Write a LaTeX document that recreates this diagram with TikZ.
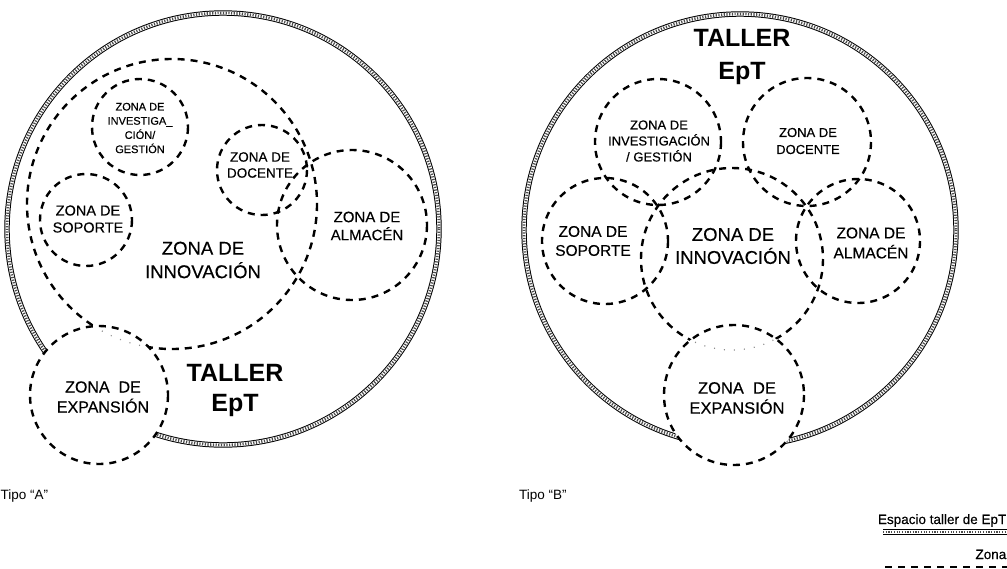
\documentclass[tikz,border=0pt]{standalone}
\usepackage{fontspec}
\setmainfont{Liberation Sans}
\newfontface\zf[FakeBold=0.35]{Liberation Sans}
\begin{document}
\begin{tikzpicture}[x=1pt,y=-1pt,
  zn/.style={draw=black, line width=2.4pt, dash pattern=on 7pt off 6pt},
  outerln/.style={draw=black, line width=1pt, double=white, double distance=3.4pt,
    postaction={draw=black!70, line width=2.8pt, dash pattern=on 1.2pt off 1.5pt}},
  faint/.style={draw=black!45, line width=1.2pt, dash pattern=on 1pt off 9pt},
  lbl/.style={align=center, inner sep=0pt},
]
\useasboundingbox (0,0) rectangle (1007,568);

% ---------------- Tipo A ----------------
\coordinate (oA) at (223,229);
\coordinate (inA) at (172,204);
\coordinate (exA) at (99,395);
\draw[outerln] (oA) circle (216);
\draw[zn] (inA) circle (145);
\fill[white] (exA) circle (69);
\draw[zn] (exA) circle (69);
\begin{scope}
  \clip (exA) circle (67);
  \draw[faint] (inA) circle (145);
\end{scope}
\coordinate (ivA) at (140,127);
\coordinate (dcA) at (262,170);
\coordinate (spA) at (86,220);
\coordinate (amA) at (352,225);
\draw[zn] (ivA) circle (48);
\draw[zn] (dcA) circle (45);
\draw[zn] (spA) circle (46);
\draw[zn] (amA) circle (75);

\node[lbl, font=\zf\fontsize{11}{14.2}\selectfont] (tivA) at (140,128) {ZONA DE\\INVESTIGA\_\\CIÓN/\\GESTIÓN};
\node[lbl, font=\zf\fontsize{13.5}{16}\selectfont] (tdcA) at (260,165) {ZONA DE\\DOCENTE};
\node[lbl, font=\zf\fontsize{14.5}{17}\selectfont] (tspA) at (88,219) {ZONA DE\\SOPORTE};
\node[lbl, font=\zf\fontsize{15}{18}\selectfont] (tamA) at (367,226) {ZONA DE\\ALMACÉN};
\node[lbl, font=\zf\fontsize{18.5}{23.5}\selectfont] (tinA) at (203,260) {ZONA DE\\INNOVACIÓN};
\node[lbl, font=\zf\fontsize{16}{20}\selectfont] (texA) at (103,397) {ZONA\ \ DE\\EXPANSIÓN};
\node[lbl, font=\fontsize{25}{30}\selectfont\bfseries] (ttA) at (235,390) {TALLER\\EpT};
\node[anchor=base west, inner sep=0pt, font=\fontsize{13.5}{15}\selectfont] (tipA) at (0.5,499) {Tipo “A”};

% ---------------- Tipo B ----------------
\coordinate (oB) at (740,230);
\coordinate (inB) at (732,259);
\coordinate (exB) at (734,395);
\draw[outerln] (oB) circle (216);
\draw[zn] (inB) circle (91);
\fill[white] (exB) circle (70);
\draw[zn] (exB) circle (70);
\begin{scope}
  \clip (exB) circle (68);
  \draw[faint] (inB) circle (91);
\end{scope}
\coordinate (ivB) at (658,142);
\coordinate (dcB) at (807,142);
\coordinate (spB) at (605,241);
\coordinate (amB) at (858,241);
\draw[zn] (ivB) circle (63);
\draw[zn] (dcB) circle (64);
\draw[zn] (spB) circle (63);
\draw[zn] (amB) circle (62);

\node[lbl, font=\fontsize{25}{33}\selectfont\bfseries] (ttB) at (742,57) {TALLER\\EpT};
\node[lbl, font=\zf\fontsize{13}{16}\selectfont] (tivB) at (659,141) {ZONA DE\\INVESTIGACIÓN\\/ GESTIÓN};
\node[lbl, font=\zf\fontsize{13}{17}\selectfont] (tdcB) at (808,141) {ZONA DE\\DOCENTE};
\node[lbl, font=\zf\fontsize{15.5}{19}\selectfont] (tspB) at (593,241) {ZONA DE\\SOPORTE};
\node[lbl, font=\zf\fontsize{15.5}{20}\selectfont] (tamB) at (871,243) {ZONA DE\\ALMACÉN};
\node[lbl, font=\zf\fontsize{18.5}{23}\selectfont] (tinB) at (733,246) {ZONA DE\\INNOVACIÓN};
\node[lbl, font=\zf\fontsize{16.5}{20}\selectfont] (texB) at (737,398) {ZONA\ \ DE\\EXPANSIÓN};
\node[anchor=base west, inner sep=0pt, font=\fontsize{13.5}{15}\selectfont] (tipB) at (519,499) {Tipo “B”};

% ---------------- Legend ----------------
\node[anchor=base east, inner sep=0pt, font=\zf\fontsize{13.5}{15}\selectfont] (lg1) at (1006.5,524) {Espacio taller de EpT};
\coordinate (lg1a) at (883,532);
\coordinate (lg1b) at (1012,532);
\draw[outerln] (lg1a) -- (lg1b);
\node[anchor=base east, inner sep=0pt, font=\zf\fontsize{13.5}{15}\selectfont] (lg2) at (1006.5,559) {Zona};
\coordinate (lg2a) at (885,567);
\coordinate (lg2b) at (1012,567);
\draw[zn] (lg2a) -- (lg2b);
\end{tikzpicture}
\end{document}
